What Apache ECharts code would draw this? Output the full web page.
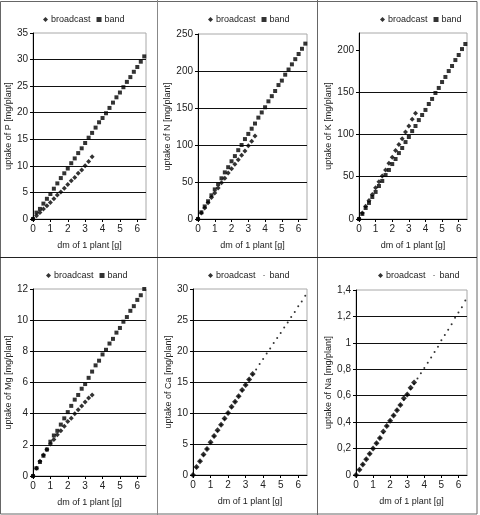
<!DOCTYPE html>
<html>
<head>
<meta charset="utf-8">
<script src="https://cdn.jsdelivr.net/npm/echarts@6/dist/echarts.min.js"></script>
<style>
  html, body { margin: 0; padding: 0; background: #fff; }
  #main { width: 480px; height: 515px; }
</style>
</head>
<body>
<div id="main"></div>
<script>
// dry matter of 1 plant [g]
var xBroadcast = [0, 0.2, 0.4, 0.6, 0.8, 1, 1.2, 1.4, 1.6, 1.8, 2, 2.2, 2.4, 2.6, 2.8, 3, 3.2, 3.4];
var xBand = [0, 0.2, 0.4, 0.6, 0.8, 1, 1.2, 1.4, 1.6, 1.8, 2, 2.2, 2.4, 2.6, 2.8, 3, 3.2, 3.4,
  3.6, 3.8, 4, 4.2, 4.4, 4.6, 4.8, 5, 5.2, 5.4, 5.6, 5.8, 6, 6.2, 6.4];
var xTicks = [0, 1, 2, 3, 4, 5, 6];

// uptake [mg/plant]
var broadcastP = [0, 0.6, 1.2, 1.9, 2.5, 3.1, 3.8, 4.5, 5.1, 5.8, 6.5, 7.2, 7.8, 8.6, 9.2, 10.0, 10.8, 11.7];
var bandP = [0, 1.2, 1.9, 2.9, 3.8, 4.7, 5.7, 6.7, 7.7, 8.6, 9.5, 10.5, 11.4, 12.4, 13.3, 14.3, 15.3,
  16.2, 17.2, 18.2, 19.0, 19.9, 20.9, 21.9, 22.9, 23.8, 24.8, 25.8, 26.7, 27.7, 28.6, 29.6, 30.6];

var broadcastN = [0, 8, 15, 22, 29, 35, 42, 49, 55, 62, 68, 74, 80, 86, 92, 99, 105, 112];
var bandN = [0, 9, 17, 24, 32, 40, 47, 55, 63, 70, 78, 85, 93, 100, 108, 115, 122, 129, 137, 144,
  151, 159, 166, 173, 181, 187, 195, 202, 209, 216, 223, 230, 237];

var broadcastK = [0, 7, 15, 22, 29, 37, 44, 51, 58, 66, 73, 81, 88, 95, 103, 110, 118, 125];
var bandK = [0, 6, 13, 19, 26, 32, 39, 45, 52, 58, 65, 71, 78, 84, 91, 97, 104, 110, 117, 123,
  129, 136, 142, 149, 155, 162, 168, 175, 181, 188, 194, 201, 207];

var broadcastMg = [0, 0.5, 0.95, 1.35, 1.7, 2.05, 2.35, 2.65, 2.9, 3.2, 3.5, 3.7, 4.0, 4.25, 4.5, 4.75, 5.0, 5.2];
var bandMg = [0, 0.5, 0.9, 1.3, 1.7, 2.2, 2.6, 2.9, 3.3, 3.7, 4.1, 4.5, 4.9, 5.2, 5.6, 5.9, 6.3, 6.7,
  7.1, 7.4, 7.8, 8.1, 8.5, 8.8, 9.2, 9.5, 9.9, 10.2, 10.6, 10.9, 11.3, 11.6, 12.0];

var broadcastCa = [0, 1.3, 2.2, 3.3, 4.2, 5.3, 6.3, 7.2, 8.1, 9.1, 10.0, 11.0, 11.8, 12.7, 13.7, 14.5, 15.4, 16.3];
var bandCa = [0, 1.2, 2.2, 3.2, 4.2, 5.2, 6.2, 7.1, 8.1, 9.0, 10.0, 10.9, 11.8, 12.7, 13.6, 14.5, 15.4,
  16.2, 17.0, 17.9, 18.7, 19.6, 20.4, 21.3, 22.1, 22.9, 23.8, 24.6, 25.5, 26.3, 27.2, 28.0, 28.9];

var broadcastNa = [0, 0.04, 0.08, 0.12, 0.16, 0.2, 0.24, 0.28, 0.33, 0.37, 0.41, 0.45, 0.49, 0.53, 0.58, 0.61, 0.66, 0.70];
var bandNa = [0, 0.04, 0.08, 0.12, 0.16, 0.2, 0.24, 0.28, 0.32, 0.37, 0.41, 0.45, 0.49, 0.53, 0.57, 0.61, 0.65,
  0.69, 0.73, 0.77, 0.81, 0.85, 0.89, 0.93, 0.97, 1.02, 1.06, 1.10, 1.14, 1.19, 1.23, 1.27, 1.32];

// y tick labels per panel
var yTicksP = [0, 5, 10, 15, 20, 25, 30, 35];
var yTicksN = [0, 50, 100, 150, 200, 250];
var yTicksK = [0, 50, 100, 150, 200];
var yTicksMg = [0, 2, 4, 6, 8, 10, 12];
var yTicksCa = [0, 5, 10, 15, 20, 25, 30];
var yTicksNa = [0, 0.2, 0.4, 0.6, 0.8, 1, 1.2, 1.4];

var panels = [
  { el: "P", broadcast: broadcastP, band: bandP, ticks: yTicksP, max: 35, interval: 5, small: false },
  { el: "N", broadcast: broadcastN, band: bandN, ticks: yTicksN, max: 250, interval: 50, small: false },
  { el: "K", broadcast: broadcastK, band: bandK, ticks: yTicksK, max: 220, interval: 50, small: false },
  { el: "Mg", broadcast: broadcastMg, band: bandMg, ticks: yTicksMg, max: 12, interval: 2, small: false },
  { el: "Ca", broadcast: broadcastCa, band: bandCa, ticks: yTicksCa, max: 30, interval: 5, small: true },
  { el: "Na", broadcast: broadcastNa, band: bandNa, ticks: yTicksNa, max: 1.4, interval: 0.2, small: true }
];

// plot boxes (pixels)
var boxes = [
  { left: 33, top: 33, width: 113, height: 186, lgLeft: 38, lgTop: 10, yGap: 20 },
  { left: 198, top: 34, width: 109, height: 185, lgLeft: 203, lgTop: 10, yGap: 25 },
  { left: 359, top: 33, width: 108, height: 186, lgLeft: 375, lgTop: 10, yGap: 24 },
  { left: 33, top: 289, width: 113, height: 187, lgLeft: 41, lgTop: 266, yGap: 18 },
  { left: 193, top: 289, width: 114, height: 186, lgLeft: 203, lgTop: 266, yGap: 18 },
  { left: 356, top: 290, width: 111, height: 185, lgLeft: 373, lgTop: 266, yGap: 21 }
];

var font = "Liberation Sans";
var tiny = "path://M0,0M3.3,3.3h1.4v1.4h-1.4zM8,8";

function pairs(xs, ys) {
  var out = [];
  for (var i = 0; i < ys.length; i++) out.push([xs[i], ys[i]]);
  return out;
}

var grid = [], xAxis = [], yAxis = [], series = [], legend = [];

panels.forEach(function (p, i) {
  var b = boxes[i];
  grid.push({
    left: b.left, top: b.top, width: b.width, height: b.height,
    show: true, borderColor: "#a8a8a8", borderWidth: 1, backgroundColor: "#fff"
  });
  xAxis.push({
    gridIndex: i, type: "value", min: 0, max: 6.5, interval: 1,
    name: "dm of 1 plant [g]", nameLocation: "middle", nameGap: 22,
    nameTextStyle: { fontFamily: font, fontSize: 9, color: "#222" },
    axisLine: { lineStyle: { color: "#000", width: 1 } },
    axisTick: { length: 3, customValues: xTicks, lineStyle: { color: "#000" } },
    axisLabel: { customValues: xTicks, fontFamily: font, fontSize: 10, color: "#222", margin: 5 },
    splitLine: { show: false }
  });
  yAxis.push({
    gridIndex: i, type: "value", min: 0, max: p.max, interval: p.interval,
    name: "uptake of " + p.el + " [mg/plant]", nameLocation: "middle", nameGap: b.yGap,
    nameTextStyle: { fontFamily: font, fontSize: 9, color: "#222" },
    axisLine: { show: true, lineStyle: { color: "#000", width: 1 } },
    axisTick: { show: true, length: 3, customValues: p.ticks, lineStyle: { color: "#000" } },
    axisLabel: {
      customValues: p.ticks, fontFamily: font, fontSize: 10, color: "#222", margin: 5,
      formatter: function (v) { return String(+v.toFixed(2)).replace(".", ","); }
    },
    splitLine: { show: true, showMinLine: false, showMaxLine: false, lineStyle: { color: "#111", width: 1 } }
  });
  series.push({
    name: "broadcast", type: "scatter", xAxisIndex: i, yAxisIndex: i,
    symbol: "diamond", symbolSize: p.small ? 6 : 5,
    itemStyle: { color: "#000" },
    data: pairs(xBroadcast, p.broadcast)
  });
  series.push({
    name: "band", type: "scatter", xAxisIndex: i, yAxisIndex: i,
    symbol: p.small ? "circle" : "rect", symbolSize: p.small ? 2 : 4,
    itemStyle: { color: "#000" },
    data: pairs(xBand, p.band)
  });
  legend.push({
    left: b.lgLeft, top: b.lgTop, itemWidth: 5, itemHeight: 5, itemGap: 6,
    selectedMode: false,
    textStyle: { fontFamily: font, fontSize: 9, color: "#222", padding: [0, 0, 0, -2] },
    data: [
      { name: "broadcast", icon: "diamond" },
      { name: "band", icon: p.small ? tiny : "rect" }
    ]
  });
});

var chart = echarts.init(document.getElementById("main"));
chart.setOption({
  animation: false,
  backgroundColor: "#fff",
  grid: grid,
  xAxis: xAxis,
  yAxis: yAxis,
  legend: legend,
  series: series,
  graphic: [
    { type: "rect", shape: { x: 0.5, y: 1.5, width: 476.5, height: 512.5 }, style: { fill: null, stroke: "#666", lineWidth: 1 }, silent: true },
    { type: "line", shape: { x1: 157.5, y1: 0, x2: 157.5, y2: 515 }, style: { stroke: "#888", lineWidth: 1 }, silent: true },
    { type: "line", shape: { x1: 317.5, y1: 0, x2: 317.5, y2: 515 }, style: { stroke: "#666", lineWidth: 1 }, silent: true },
    { type: "line", shape: { x1: 0, y1: 257.5, x2: 477, y2: 257.5 }, style: { stroke: "#222", lineWidth: 1 }, silent: true }
  ]
});
</script>
</body>
</html>
